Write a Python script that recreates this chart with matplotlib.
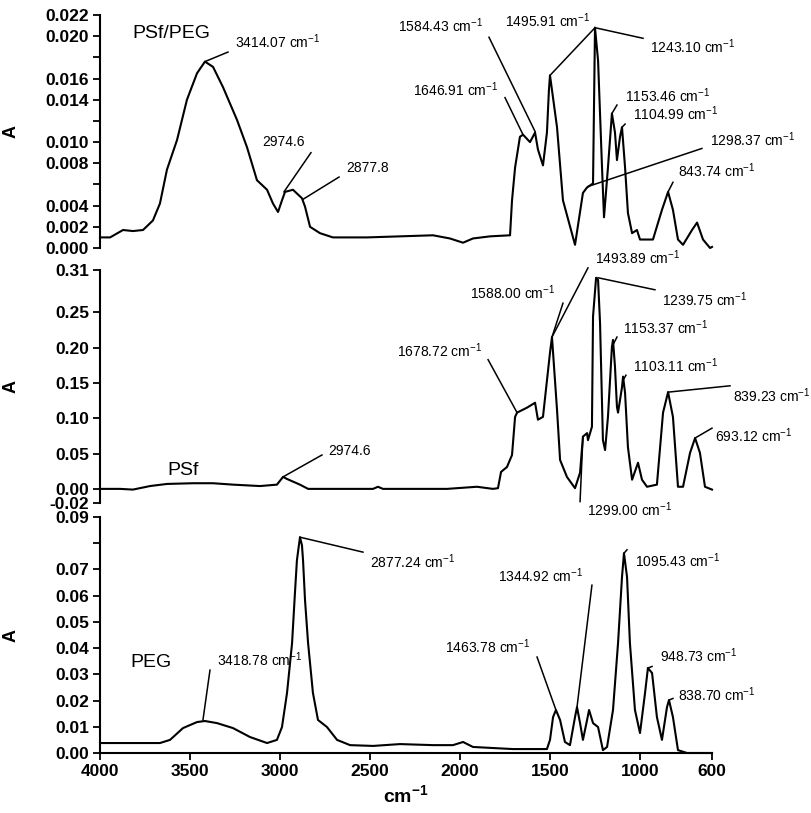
import matplotlib
matplotlib.use("Agg")
import matplotlib.pyplot as plt

plt.rcParams['font.family'] = ['Liberation Sans', 'DejaVu Sans']
plt.rcParams['mathtext.fontset'] = 'custom'
plt.rcParams['mathtext.rm'] = 'Liberation Sans'
plt.rcParams['mathtext.it'] = 'Liberation Sans:italic'
plt.rcParams['mathtext.bf'] = 'Liberation Sans:bold'

# ---------------- data ----------------
psf_peg_wn = [4000, 3944, 3872, 3817, 3761, 3706, 3667, 3628, 3572, 3517, 3461, 3417, 3372, 3317,
              3239, 3183, 3128, 3072, 3039, 3011, 2989, 2972, 2928, 2878, 2861, 2833, 2778, 2706,
              2517, 2333, 2150, 2056, 1983, 1928, 1833, 1722, 1711, 1694, 1667, 1650, 1611, 1583,
              1567, 1539, 1517, 1506, 1500, 1461, 1428, 1361, 1317, 1295, 1261, 1250, 1233, 1211,
              1200, 1178, 1156, 1139, 1128, 1111, 1100, 1083, 1067, 1044, 1017, 1000, 961, 928,
              878, 844, 817, 789, 761, 711, 683, 650, 611, 600]
psf_peg_a = [0.0010, 0.0010, 0.0017, 0.0016, 0.0017, 0.0026, 0.0042, 0.0074, 0.0102, 0.0140, 0.0165,
             0.0176, 0.0171, 0.0152, 0.0121, 0.0095, 0.0064, 0.0055, 0.0042, 0.0034, 0.0045, 0.0053,
             0.0055, 0.0047, 0.0039, 0.0020, 0.0014, 0.0010, 0.0010, 0.0011, 0.0012, 0.0009, 0.0005,
             0.0009, 0.0011, 0.0012, 0.0045, 0.0076, 0.0105, 0.0107, 0.0100, 0.0109, 0.0093, 0.0078,
             0.0109, 0.0149, 0.0163, 0.0114, 0.0045, 0.0003, 0.0052, 0.0057, 0.0061, 0.0208, 0.0177,
             0.0076, 0.0029, 0.0076, 0.0127, 0.0109, 0.0083, 0.0105, 0.0114, 0.0076, 0.0033, 0.0014,
             0.0017, 0.0008, 0.0008, 0.0008, 0.0036, 0.0053, 0.0036, 0.0008, 0.0003, 0.0017, 0.0024,
             0.0008, 0.0000, 0.0001]

psf_wn = [4000, 3889, 3817, 3722, 3628, 3483, 3372, 3261, 3111, 3017, 2983, 2961, 2889, 2844, 2706,
          2483, 2456, 2428, 2222, 2072, 1906, 1817, 1789, 1772, 1739, 1711, 1694, 1683, 1628, 1583,
          1567, 1539, 1500, 1489, 1461, 1444, 1406, 1361, 1333, 1317, 1294, 1289, 1267, 1261, 1244,
          1233, 1222, 1206, 1194, 1178, 1156, 1150, 1139, 1128, 1122, 1100, 1094, 1083, 1067, 1044,
          1011, 989, 961, 906, 872, 844, 817, 789, 761, 722, 694, 667, 639, 600]
psf_a = [0.000, 0.000, -0.001, 0.004, 0.007, 0.008, 0.008, 0.006, 0.004, 0.006, 0.017, 0.014, 0.006,
         0.000, 0.000, 0.000, 0.003, 0.000, 0.000, 0.000, 0.003, 0.000, 0.001, 0.024, 0.031, 0.048,
         0.102, 0.108, 0.115, 0.122, 0.098, 0.102, 0.193, 0.215, 0.112, 0.041, 0.017, 0.001, 0.023,
         0.074, 0.079, 0.069, 0.088, 0.244, 0.299, 0.296, 0.235, 0.069, 0.055, 0.102, 0.201, 0.211,
         0.173, 0.116, 0.108, 0.144, 0.159, 0.136, 0.059, 0.013, 0.037, 0.013, 0.003, 0.006, 0.108,
         0.137, 0.102, 0.003, 0.003, 0.051, 0.072, 0.051, 0.003, -0.001]

peg_wn = [4000, 3667, 3611, 3539, 3461, 3417, 3350, 3261, 3167, 3072, 3017, 2989, 2961, 2933, 2917,
          2906, 2889, 2878, 2872, 2861, 2844, 2817, 2789, 2739, 2683, 2611, 2483, 2333, 2150, 2039,
          1983, 1928, 1706, 1517, 1500, 1483, 1467, 1444, 1417, 1389, 1361, 1350, 1333, 1317, 1294,
          1283, 1261, 1233, 1206, 1183, 1150, 1122, 1100, 1089, 1072, 1056, 1028, 1000, 972, 956,
          933, 906, 878, 850, 839, 817, 789, 739, 600]
peg_a = [0.0038, 0.0038, 0.0050, 0.0095, 0.0118, 0.0122, 0.0114, 0.0095, 0.0061, 0.0038, 0.0050,
         0.0099, 0.0229, 0.0419, 0.0610, 0.0735, 0.0823, 0.0792, 0.0735, 0.0583, 0.0419, 0.0229,
         0.0126, 0.0099, 0.0050, 0.0030, 0.0027, 0.0034, 0.0030, 0.0030, 0.0042, 0.0023, 0.0015,
         0.0015, 0.0050, 0.0137, 0.0164, 0.0126, 0.0042, 0.0030, 0.0137, 0.0175, 0.0114, 0.0050,
         0.0126, 0.0164, 0.0114, 0.0099, 0.0011, 0.0023, 0.0164, 0.0419, 0.0671, 0.0762, 0.0671,
         0.0419, 0.0164, 0.0076, 0.0229, 0.0324, 0.0305, 0.0137, 0.0050, 0.0175, 0.0202, 0.0137,
         0.0011, 0.0000, 0.0000]

x_ticks = [4000, 3500, 3000, 2500, 2000, 1500, 1000, 600]
top_yticks = [0.000, 0.002, 0.004, 0.006, 0.008, 0.010, 0.012, 0.014, 0.016, 0.018, 0.020, 0.022]
top_ylabels = ['0.000', '0.002', '0.004', '', '0.008', '0.010', '', '0.014', '0.016', '', '0.020', '0.022']
mid_yticks = [-0.02, 0.00, 0.05, 0.10, 0.15, 0.20, 0.25, 0.31]
mid_ylabels = ['-0.02', '0.00', '0.05', '0.10', '0.15', '0.20', '0.25', '0.31']
bot_yticks = [0.00, 0.01, 0.02, 0.03, 0.04, 0.05, 0.06, 0.07, 0.08, 0.09]
bot_ylabels = ['0.00', '0.01', '0.02', '0.03', '0.04', '0.05', '0.06', '0.07', '', '0.09']

CM = r' cm$^{-1}$'
# (text, text position (wn, A), leader start (wn, A), leader end (wn, A))
top_notes = [
    ('3414.07' + CM, (3250, 0.0195), (3417, 0.0176), (3289, 0.0185)),
    ('2974.6', (3100, 0.0100), (2978, 0.0053), (2828, 0.0090)),
    ('2877.8', (2633, 0.0076), (2872, 0.0046), (2672, 0.0067)),
    ('1646.91' + CM, (2261, 0.0149), (1650, 0.0107), (1750, 0.0142)),
    ('1584.43' + CM, (2344, 0.0210), (1583, 0.0110), (1839, 0.0199)),
    ('1495.91' + CM, (1750, 0.0215), (1500, 0.0163), (1250, 0.0208)),
    ('1243.10' + CM, (944, 0.0190), (1250, 0.0208), (983, 0.0198)),
    ('1153.46' + CM, (1083, 0.0144), (1156, 0.0127), (1128, 0.0135)),
    ('1104.99' + CM, (1039, 0.0127), (1100, 0.0114), (1083, 0.0117)),
    ('1298.37' + CM, (611, 0.0102), (1290, 0.0058), (656, 0.0094)),
    ('843.74' + CM, (789, 0.0073), (844, 0.0053), (817, 0.0062)),
]
mid_notes = [
    ('2974.6', (2733, 0.054), (2983, 0.017), (2767, 0.048)),
    ('1678.72' + CM, (2350, 0.195), (1683, 0.108), (1844, 0.183)),
    ('1588.00' + CM, (1944, 0.278), (1489, 0.215), (1428, 0.263)),
    ('1493.89' + CM, (1250, 0.327), (1489, 0.215), (1289, 0.313)),
    ('1239.75' + CM, (878, 0.268), (1233, 0.299), (917, 0.282)),
    ('1153.37' + CM, (1094, 0.228), (1150, 0.204), (1128, 0.215)),
    ('1103.11' + CM, (1039, 0.174), (1094, 0.154), (1078, 0.161)),
    ('839.23' + CM, (483, 0.132), (844, 0.137), (500, 0.146)),
    ('693.12' + CM, (583, 0.075), (694, 0.072), (600, 0.086)),
    ('1299.00' + CM, (1294, -0.030), (1317, 0.074), (1333, -0.018)),
]
bot_notes = [
    ('3418.78' + CM, (3350, 0.0354), (3428, 0.0126), (3389, 0.0316)),
    ('2877.24' + CM, (2500, 0.0728), (2889, 0.0823), (2539, 0.0766)),
    ('1344.92' + CM, (1789, 0.0678), (1350, 0.0175), (1267, 0.0640)),
    ('1463.78' + CM, (2083, 0.0404), (1467, 0.0164), (1572, 0.0366)),
    ('1095.43' + CM, (1028, 0.0735), (1089, 0.0762), (1072, 0.0775)),
    ('948.73' + CM, (889, 0.0370), (956, 0.0324), (933, 0.0330)),
    ('838.70' + CM, (789, 0.0221), (839, 0.0202), (817, 0.0208)),
]

# ---------------- figure ----------------
fig = plt.figure(figsize=(8.12, 8.13), dpi=100)
L, W = 100 / 812, 612 / 812
ax_top = fig.add_axes([L, (813 - 248) / 813, W, 233 / 813])
ax_mid = fig.add_axes([L, (813 - 503) / 813, W, 233 / 813])
ax_bot = fig.add_axes([L, (813 - 753) / 813, W, 236 / 813])

LW = 1.5
TICKFS = 12.5
NOTEFS = 10

def style(ax, yt, yl, ylim, name, name_pos, show_x):
    ax.set_xlim(4000, 600)
    ax.set_ylim(*ylim)
    for s in ['top', 'right']:
        ax.spines[s].set_visible(False)
    ax.spines['left'].set_linewidth(1.5)
    ax.spines['bottom'].set_linewidth(1.5)
    if not show_x:
        ax.spines['bottom'].set_visible(False)
        ax.set_xticks([])
    else:
        ax.set_xticks(x_ticks)
        ax.set_xticklabels([str(v) for v in x_ticks], fontsize=TICKFS, fontweight='bold')
    ax.set_yticks(yt)
    ax.set_yticklabels(yl, fontsize=TICKFS, fontweight='bold')
    ax.tick_params(direction='out', length=5, width=1.3, pad=3)
    ax.set_ylabel('A', fontsize=13, fontweight='bold')
    ax.yaxis.set_label_coords(-0.131, 0.5)
    ax.text(name_pos[0], name_pos[1], name, fontsize=14, ha='left', va='center')
    ax.patch.set_alpha(0)

def notes(ax, items):
    for txt, tp, p0, p1 in items:
        ax.plot([p0[0], p1[0]], [p0[1], p1[1]], color='black', lw=1.1, clip_on=False)
        ax.text(tp[0], tp[1], txt, fontsize=NOTEFS, ha='left', va='center', clip_on=False)

ax_top.plot(psf_peg_wn, psf_peg_a, color='black', lw=LW, clip_on=False)
style(ax_top, top_yticks, top_ylabels, (0, 0.022), 'PSf/PEG', (3822, 0.0203), False)
notes(ax_top, top_notes)

ax_mid.plot(psf_wn, psf_a, color='black', lw=LW, clip_on=False)
style(ax_mid, mid_yticks, mid_ylabels, (-0.02, 0.31), 'PSf', (3628, 0.0255), False)
notes(ax_mid, mid_notes)

ax_bot.plot(peg_wn, peg_a, color='black', lw=LW, clip_on=False)
style(ax_bot, bot_yticks, bot_ylabels, (0, 0.09), 'PEG', (3833, 0.0347), True)
notes(ax_bot, bot_notes)
ax_bot.set_xlabel(r'cm$^{\mathbf{-1}}$', fontsize=14, fontweight='bold', labelpad=4)

fig.savefig('out.png', dpi=100)
